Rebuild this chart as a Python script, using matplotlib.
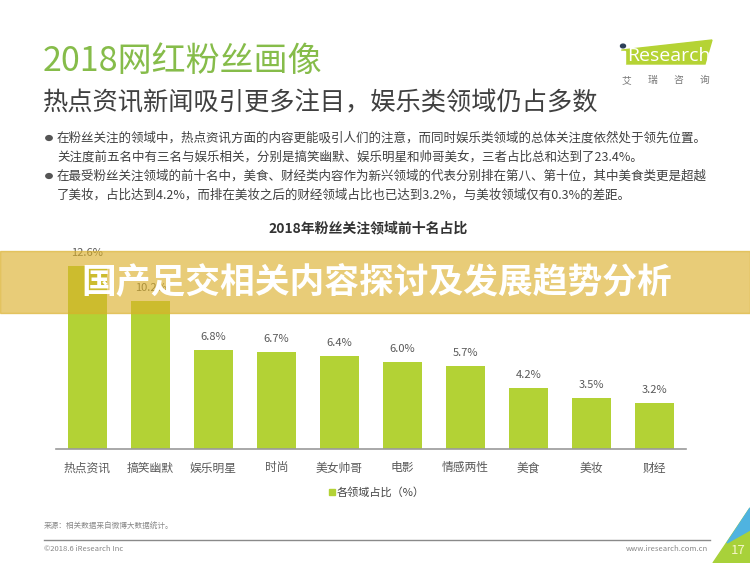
import matplotlib
matplotlib.use('Agg')
import matplotlib.pyplot as plt
from matplotlib.patches import Rectangle, Polygon, Circle

plt.rcParams['font.family'] = ['Noto Sans CJK SC', 'DejaVu Sans']

W, H = 750, 563

categories = ['热点资讯', '搞笑幽默', '娱乐明星', '时尚', '美女帅哥',
              '电影', '情感两性', '美食', '美妆', '财经']
values = [12.6, 10.2, 6.8, 6.7, 6.4, 6.0, 5.7, 4.2, 3.5, 3.2]

title = '2018网红粉丝画像'
subtitle = '热点资讯新闻吸引更多注目，娱乐类领域仍占多数'
bullets = [
    ['在粉丝关注的领域中，热点资讯方面的内容更能吸引人们的注意，而同时娱乐类领域的总体关注度依然处于领先位置。',
     '关注度前五名中有三名与娱乐相关，分别是搞笑幽默、娱乐明星和帅哥美女，三者占比总和达到了23.4%。'],
    ['在最受粉丝关注领域的前十名中，美食、财经类内容作为新兴领域的代表分别排在第八、第十位，其中美食类更是超越',
     '了美妆，占比达到4.2%，而排在美妆之后的财经领域占比也已达到3.2%，与美妆领域仅有0.3%的差距。'],
]
chart_title = '2018年粉丝关注领域前十名占比'
legend_label = '各领域占比（%）'
banner = '国产足交相关内容探讨及发展趋势分析'
source = '来源：相关数据来自微博大数据统计。'

green = '#b3d235'
gray = '#595959'


def fx(x):
    return x / W


def fy(y):
    return 1 - y / H


fig = plt.figure(figsize=(7.5, 5.63), dpi=100)
fig.patch.set_facecolor('white')

# bar chart
ax = fig.add_axes([fx(56), fy(449), fx(686) - fx(56), fy(240) - fy(449)])
xs = range(len(values))
ax.bar(xs, values, width=0.62, color=green, zorder=2)
for x, v in zip(xs, values):
    ax.text(x, v + 0.55, '%.1f%%' % v, ha='center', va='bottom',
            fontsize=8, color=gray)
ax.set_xlim(-0.5, 9.5)
ax.set_ylim(0, 14.4)
ax.set_xticks(list(xs))
ax.set_xticklabels(categories, fontsize=8.5, color=gray)
ax.tick_params(axis='x', length=0, pad=9)
ax.set_yticks([])
for s in ['top', 'right', 'left']:
    ax.spines[s].set_visible(False)
ax.spines['bottom'].set_color('#9a9a9a')
ax.spines['bottom'].set_linewidth(1.2)
ax.patch.set_alpha(0)

# headings
fig.text(fx(43), fy(62), title, fontsize=24.5, color='#86bc4a', va='center',
         fontweight='light')
fig.text(fx(43), fy(103), subtitle, fontsize=18.2, color='#404040', va='center')

ys = [[138, 157], [176, 195]]
for lines, yy in zip(bullets, ys):
    fig.add_artist(Circle((fx(49), fy(yy[0])), 3.2 / W, color='#555555',
                          transform=fig.transFigure))
    for line, y in zip(lines, yy):
        fig.text(fx(57), fy(y), line, fontsize=9, color='#404040', va='center')

fig.text(fx(368), fy(228), chart_title, fontsize=10, color='#333333',
         ha='center', va='center', fontweight='bold')

# legend
fig.add_artist(Rectangle((fx(329), fy(495)), 6 / W, 6 / H, color=green,
                         transform=fig.transFigure))
fig.text(fx(337), fy(492), legend_label, fontsize=8, color='#444444', va='center')

# logo
fig.add_artist(Polygon([(fx(622), fy(50)), (fx(712), fy(40)), (fx(705), fy(64)),
                        (fx(622), fy(64))], closed=True, color='#b5d334',
                       transform=fig.transFigure))
fig.add_artist(Rectangle((fx(621), fy(64)), 4 / W, 13 / H, color='white',
                         transform=fig.transFigure))
fig.add_artist(Circle((fx(623), fy(46)), 2.5 / W, color='#2c3e57',
                      transform=fig.transFigure))
fig.text(fx(627), fy(56), 'Research', fontsize=14, color='white', va='center',
         family='Open Sans')
for i, ch in enumerate('艾瑞咨询'):
    fig.text(fx(626 + 26 * i), fy(80), ch, fontsize=7, color='#777777',
             ha='center', va='center')

# footer
fig.text(fx(44), fy(527), source, fontsize=5.5, color='#888888', va='center')
fig.add_artist(plt.Line2D([fx(44), fx(710)], [fy(540), fy(540)], color='#8a8a8a',
                          lw=1.0, transform=fig.transFigure))
fig.text(fx(44), fy(549), '©2018.6 iResearch Inc', fontsize=5.5, color='#888888',
         va='center')
fig.text(fx(708), fy(549), 'www.iresearch.com.cn', fontsize=5.5, color='#888888',
         va='center', ha='right')
fig.add_artist(Polygon([(fx(713), fy(563)), (fx(750), fy(508)), (fx(750), fy(563))],
                       closed=True, color='#a8d13a', transform=fig.transFigure))
fig.add_artist(Polygon([(fx(727), fy(543)), (fx(750), fy(508)), (fx(750), fy(530))],
                       closed=True, color='#4fb3e0', transform=fig.transFigure))
fig.text(fx(738), fy(550), '17', fontsize=9.5, color='#f5f5c8', ha='center',
         va='center')

# banner overlay
fig.add_artist(Rectangle((0, fy(313)), 1, (313 - 251) / H, color='#dbb02a',
                         alpha=0.635, zorder=5, transform=fig.transFigure))
fig.text(fx(377), fy(283), banner, fontsize=25, color='white', ha='center',
         va='center', fontweight='heavy', zorder=6)

fig.savefig('out.png', dpi=100)
